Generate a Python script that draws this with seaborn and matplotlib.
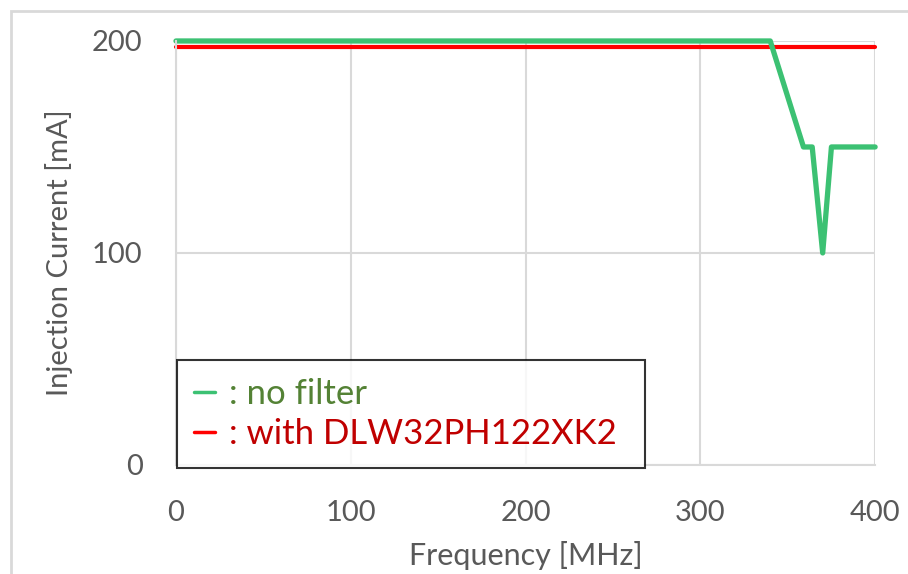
import seaborn as sns
import matplotlib.pyplot as plt
from matplotlib.lines import Line2D
from matplotlib.patches import Rectangle

freq_nofilter = [0, 340, 359, 364, 370, 375, 400]
cur_nofilter = [200, 200, 150, 150, 100, 150, 150]

freq_filter = [0, 400]
cur_filter = [197, 197]

green = "#3CC173"
red = "#FF0000"

sns.set_style("white")
plt.rcParams['font.family'] = ['Lato', 'DejaVu Sans']

fig = plt.figure(figsize=(9.08, 5.74), dpi=100)
ax = fig.add_axes([0.1938, 0.19, 0.770, 0.7386])

sns.lineplot(x=freq_filter, y=cur_filter, color=red, linewidth=3.0, ax=ax)
sns.lineplot(x=freq_nofilter, y=cur_nofilter, color=green, linewidth=3.8, ax=ax)
for ln in ax.lines:
    ln.set_clip_on(False)

ax.set_xlim(0, 400)
ax.set_ylim(0, 200)
ax.set_xticks([0, 100, 200, 300, 400])
ax.set_yticks([0, 100, 200])
ax.grid(True, color="#D9D9D9", linewidth=1.5)
ax.set_axisbelow(True)
for s in ["top", "right"]:
    ax.spines[s].set_visible(False)
for s in ["left", "bottom"]:
    ax.spines[s].set_color("#D9D9D9")
    ax.spines[s].set_linewidth(1.5)
ax.tick_params(axis="both", labelsize=21, colors="#595959", length=0)
ax.tick_params(axis="x", pad=25)
ax.tick_params(axis="y", pad=24)
ax.set_xlabel("Frequency [MHz]", fontsize=22, color="#595959", labelpad=11)
ax.set_ylabel("Injection Current [mA]", fontsize=21, color="#595959", labelpad=14)

handles = [Line2D([], [], color=green, linewidth=2.5),
           Line2D([], [], color=red, linewidth=2.5)]
leg = fig.legend(handles, [": no filter", ": with DLW32PH122XK2"],
                 loc="lower left", bbox_to_anchor=(0.195, 0.185, 0.515, 0.181),
                 mode="expand", fontsize=25, frameon=True, fancybox=False,
                 edgecolor="black", handlelength=0.6, handletextpad=0.4,
                 borderpad=0.5, labelspacing=0.25, borderaxespad=0)
leg.get_frame().set_linewidth(1.5)
for t, c in zip(leg.get_texts(), ["#548235", "#C00000"]):
    t.set_color(c)

# outer chart border
fig.patches.append(Rectangle((0.012, -0.05), 1.2, 1.03, transform=fig.transFigure,
                             fill=False, edgecolor="#D9D9D9", linewidth=2))

fig.savefig("out.png", dpi=100)
